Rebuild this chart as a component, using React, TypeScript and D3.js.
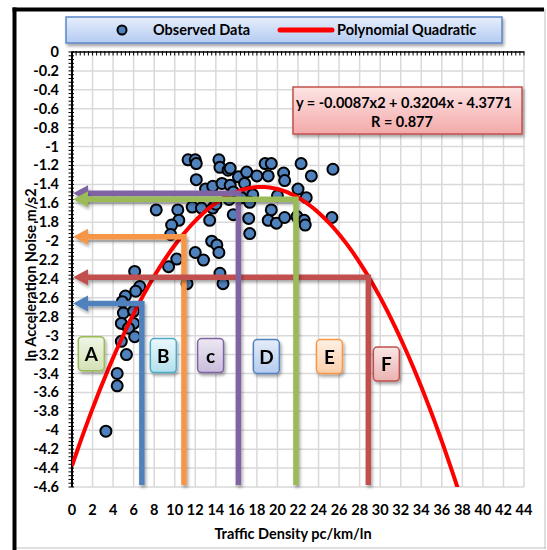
import React from 'react';
import * as d3 from 'd3';

// observed points (traffic density, ln acceleration noise)
const density = [11.3, 12.0, 12.1, 14.3, 14.4, 15.2, 15.4, 16.2, 17.0, 18.0, 18.8, 19.4, 19.1, 20.6, 20.7, 22.3, 23.3, 25.4,
  12.1, 13.0, 13.7, 14.6, 15.4, 16.8, 17.2, 17.6, 15.7, 15.3, 16.5, 17.3, 20.0, 22.0, 22.8,
  8.2, 10.3, 11.7, 12.6, 13.7, 14.0, 13.4, 15.7, 17.2, 19.4, 19.1, 19.9, 20.7, 21.9, 22.6, 22.7, 25.3,
  10.4, 9.7, 9.6, 17.3, 13.6, 14.1, 14.3, 12.0, 12.8, 10.2, 9.4, 14.4, 14.7, 11.2,
  6.1, 6.6, 6.2, 5.2, 4.9, 5.0, 6.0, 4.8, 6.0, 5.5, 6.1, 4.8, 5.3, 4.4, 4.4, 3.3];
const noise = [-1.14, -1.14, -1.18, -1.14, -1.22, -1.25, -1.23, -1.32, -1.27, -1.31, -1.18, -1.18, -1.31, -1.28, -1.36, -1.18, -1.31, -1.24,
  -1.35, -1.45, -1.42, -1.39, -1.41, -1.39, -1.48, -1.51, -1.48, -1.56, -1.54, -1.59, -1.52, -1.45, -1.54,
  -1.67, -1.67, -1.64, -1.65, -1.65, -1.61, -1.78, -1.72, -1.76, -1.67, -1.78, -1.81, -1.75, -1.74, -1.78, -1.83, -1.75,
  -1.78, -1.83, -1.93, -1.92, -2.0, -2.04, -2.12, -2.12, -2.2, -2.19, -2.27, -2.34, -2.45, -2.45,
  -2.32, -2.48, -2.53, -2.58, -2.64, -2.76, -2.74, -2.87, -2.87, -2.92, -3.01, -3.06, -3.2, -3.4, -3.53, -4.01];

// fitted quadratic shown in the chart
const fitA = -0.0087, fitB = 0.3204, fitC = -4.3771;

const xTicks = [0, 2, 4, 6, 8, 10, 12, 14, 16, 18, 20, 22, 24, 26, 28, 30, 32, 34, 36, 38, 40, 42, 44];
const yTicks = [0, -0.2, -0.4, -0.6, -0.8, -1, -1.2, -1.4, -1.6, -1.8, -2, -2.2, -2.4, -2.6, -2.8, -3, -3.2, -3.4, -3.6, -3.8, -4, -4.2, -4.4, -4.6];
const yTickLabels = ['0', '-0.2', '-0.4', '-0.6', '-0.8', '-1', '-1.2', '-1.4', '-1.6', '-1.8', '-2', '-2.2', '-2.4', '-2.6', '-2.8', '-3', '-3.2', '-3.4', '-3.6', '-3.8', '-4', '-4.2', '-4.4', '-4.6'];

// zone boundary arrows (density, noise)
const guideX = [6.8, 10.9, 28.85, 16.2, 21.8];
const guideY = [-2.66, -1.953, -2.383, -1.494, -1.557];
const guideColor = ['#4F81BD', '#F79646', '#C0504D', '#8064A2', '#9BBB59'];

// zone labels
const zoneLetter = ['A', 'B', 'c', 'D', 'E', 'F'];
const zoneX = [1.88, 8.89, 13.49, 18.92, 25.06, 30.6];
const zoneY = [-3.19, -3.21, -3.21, -3.22, -3.22, -3.3];
const zoneFill = [['#f0f5e6', '#d4e2b6'], ['#eaf8fc', '#b3e0ec'], ['#ece8f2', '#c9bcdc'], ['#e4ecf8', '#b5cbef'], ['#fef0e4', '#fbd0ab'], ['#f9e6e5', '#eab3b1']];
const zoneStroke = ['#9BBB59', '#4BACC6', '#8064A2', '#4F81BD', '#F79646', '#C0504D'];

const FONT = 'Lato, "Open Sans", sans-serif';

export default function App() {
  const W = 547, H = 550;
  const x = d3.scaleLinear().domain([0, 44]).range([72, 524]);
  const y = d3.scaleLinear().domain([0, -4.6]).range([52, 487]);

  const curveXs = d3.range(0, 38.01, 0.25);
  const line = d3.line<number>()
    .x(d => x(d))
    .y(d => y(fitA * d * d + fitB * d + fitC));

  const minorX = d3.range(0, 44.001, 0.4);
  const minorY = d3.range(0, 116).map(i => -i * 0.04);

  return (
    <svg width={W} height={H} style={{ position: 'absolute', left: 0, top: 0, background: '#fff' }} fontFamily={FONT}>
      <defs>
        <filter id="shadow" x="-50%" y="-50%" width="200%" height="200%">
          <feDropShadow dx="1.5" dy="2.5" stdDeviation="1.6" floodColor="#000" floodOpacity="0.35" />
        </filter>
        <clipPath id="plotClip">
          <rect x={x(0)} y={y(0)} width={x(44) - x(0)} height={y(-4.6) - y(0)} />
        </clipPath>
        <linearGradient id="legendGrad" x1="0" y1="0" x2="0" y2="1">
          <stop offset="0" stopColor="#e6eefb" />
          <stop offset="1" stopColor="#b4cbf2" />
        </linearGradient>
        <linearGradient id="eqGrad" x1="0" y1="0" x2="0" y2="1">
          <stop offset="0" stopColor="#fde4e4" />
          <stop offset="1" stopColor="#f4a9a9" />
        </linearGradient>
        {zoneFill.map((f, i) => (
          <linearGradient key={i} id={`zone${i}`} x1="0" y1="0" x2="0" y2="1">
            <stop offset="0" stopColor={f[0]} />
            <stop offset="1" stopColor={f[1]} />
          </linearGradient>
        ))}
      </defs>

      {/* outer frame */}
      <line x1={545} y1={9} x2={545} y2={549} stroke="#bfbfbf" strokeWidth={1} />
      <line x1={13} y1={548} x2={546} y2={548} stroke="#bfbfbf" strokeWidth={1} />
      <line x1={14.5} y1={7.5} x2={14.5} y2={550} stroke="#000" strokeWidth={4} />
      <line x1={12.5} y1={9.5} x2={544} y2={9.5} stroke="#000" strokeWidth={4} />

      {/* grid */}
      {xTicks.slice(1).map(t => (
        <line key={`gx${t}`} x1={x(t)} x2={x(t)} y1={y(0)} y2={y(-4.6)} stroke="#d9d9d9" strokeWidth={1.5} />
      ))}
      {yTicks.slice(1).map(t => (
        <line key={`gy${t}`} x1={x(0)} x2={x(44)} y1={y(t)} y2={y(t)} stroke="#d9d9d9" strokeWidth={1.5} />
      ))}

      {/* axes */}
      <line x1={x(0)} x2={x(44)} y1={y(0)} y2={y(0)} stroke="#000" strokeWidth={1.5} />
      {minorX.map((t, i) => (
        <line key={`tx${i}`} x1={x(t)} x2={x(t)} y1={y(0) - 1} y2={y(0) + 3.5} stroke="#000" strokeWidth={1} />
      ))}
      <line x1={x(0)} x2={x(0)} y1={y(0)} y2={y(-4.6)} stroke="#000" strokeWidth={2} />
      {minorY.map((t, i) => (
        <line key={`ty${i}`} x1={x(0) - 3.5} x2={x(0) + 2} y1={y(t)} y2={y(t)} stroke="#000" strokeWidth={1} />
      ))}

      {/* tick labels */}
      {xTicks.map(t => (
        <text key={`lx${t}`} x={x(t)} y={515} textAnchor="middle" fontSize={14.5} fontWeight={700} fill="#000">{t}</text>
      ))}
      {yTicks.map((t, i) => (
        <text key={`ly${i}`} x={59} y={y(t) + 5} textAnchor="end" fontSize={14.5} fontWeight={700} fill="#000">{yTickLabels[i]}</text>
      ))}

      {/* axis titles */}
      <text x={293} y={539} textAnchor="middle" fontSize={14.5} fontWeight={700} fill="#000">Traffic Density pc/km/ln</text>
      <text transform="translate(36,275) rotate(-90)" textAnchor="middle" fontSize={14.5} fontWeight={700} fill="#000">ln Acceleration Noise m/s2</text>

      {/* observed data */}
      {density.map((d, i) => (
        <circle key={`p${i}`} cx={x(d)} cy={y(noise[i])} r={5.5} fill="#4F81BD" stroke="#000" strokeWidth={2} />
      ))}

      {/* fitted curve */}
      <path d={line(curveXs) || ''} fill="none" stroke="#FF0000" strokeWidth={4} clipPath="url(#plotClip)" />

      {/* zone boundaries */}
      {guideX.map((gx, i) => {
        const px = x(gx), py = y(guideY[i]);
        const tip = x(0) + 1;
        return (
          <g key={`g${i}`} filter="url(#shadow)">
            <path d={`M${tip + 13},${py} L${px},${py} L${px},${y(-4.58)}`} fill="none" stroke={guideColor[i]} strokeWidth={5.5} />
            <path d={`M${tip},${py} L${tip + 15},${py - 8} L${tip + 15},${py + 8} Z`} fill={guideColor[i]} />
          </g>
        );
      })}

      {/* zone letters */}
      {zoneLetter.map((l, i) => (
        <g key={`z${i}`} filter="url(#shadow)">
          <rect x={x(zoneX[i]) - 13} y={y(zoneY[i]) - 17} width={26} height={34} rx={4}
            fill={`url(#zone${i})`} stroke={zoneStroke[i]} strokeWidth={1.5} />
          <text x={x(zoneX[i])} y={y(zoneY[i]) + 7} textAnchor="middle" fontSize={19} fontWeight={700} fill="#000">{l}</text>
        </g>
      ))}

      {/* equation box */}
      <rect x={293} y={87} width={229} height={47} fill="url(#eqGrad)" stroke="#C0504D" strokeWidth={1.5} filter="url(#shadow)" />
      <text x={404} y={108} textAnchor="middle" fontSize={14.5} fontWeight={700} fill="#000">y = -0.0087x2 + 0.3204x - 4.3771</text>
      <text x={402} y={127} textAnchor="middle" fontSize={14.5} fontWeight={700} fill="#000">R = 0.877</text>

      {/* legend */}
      <rect x={66} y={17} width={436} height={26} fill="url(#legendGrad)" stroke="#5b87c9" strokeWidth={1.5} filter="url(#shadow)" />
      <circle cx={122} cy={30} r={4.5} fill="#4F81BD" stroke="#000" strokeWidth={2} />
      <text x={153} y={35} fontSize={14.5} fontWeight={700} fill="#000">Observed Data</text>
      <line x1={280} x2={332} y1={30} y2={30} stroke="#FF0000" strokeWidth={5} strokeLinecap="round" />
      <text x={337} y={35} fontSize={14.5} fontWeight={700} fill="#000">Polynomial Quadratic</text>
    </svg>
  );
}
